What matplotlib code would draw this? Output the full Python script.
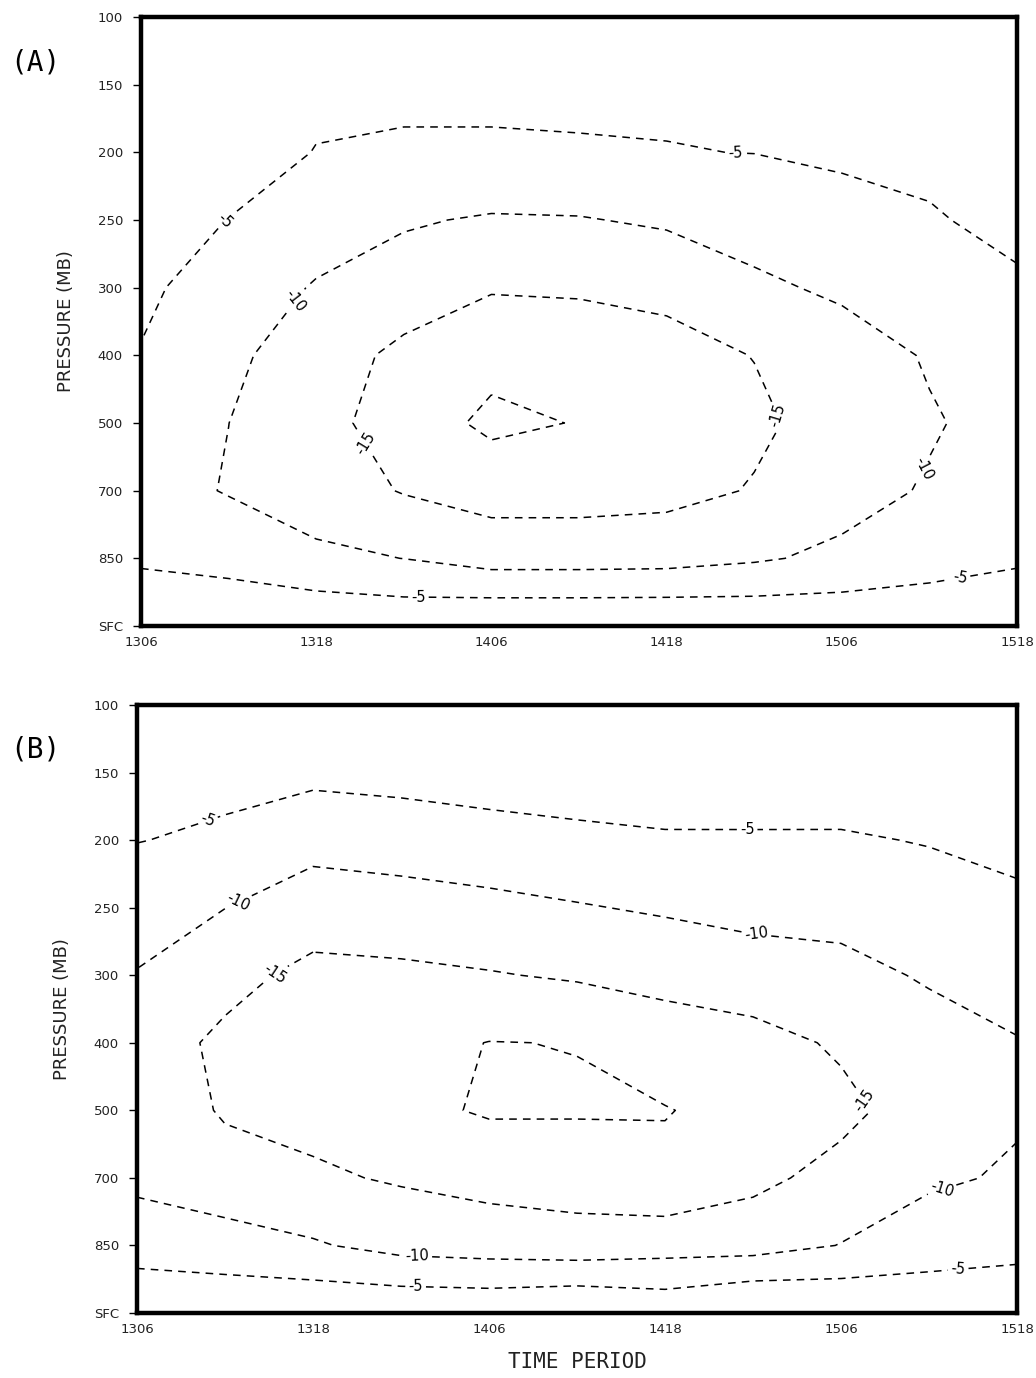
import numpy as np
import matplotlib
matplotlib.use("Agg")
import matplotlib.pyplot as plt

# ---- data -------------------------------------------------------------
time_hours = [0, 6, 12, 18, 24, 30, 36, 42, 48, 54, 60]
time_tick_hours = [0, 12, 24, 36, 48, 60]
time_tick_labels = ["1306", "1318", "1406", "1418", "1506", "1518"]
level_labels = ["100", "150", "200", "250", "300", "400", "500", "700", "850", "SFC"]
contour_levels = [-20, -15, -10, -5]

# panel A values, rows = pressure levels (100 ... SFC), columns = times
values_a = [
    [-1.0, -1.5, -2.0, -2.0, -2.0, -2.0, -2.0, -2.0, -1.8, -1.5, -1.0],
    [-2.0, -2.5, -4.3, -4.5, -4.5, -4.5, -4.5, -4.0, -3.5, -3.0, -2.5],
    [-3.0, -3.5, -5.1, -5.3, -5.3, -5.2, -5.1, -4.95, -4.6, -4.2, -3.3],
    [-3.6, -5.05, -7.5, -9.5, -10.5, -10.3, -9.3, -7.5, -5.9, -5.3, -4.1],
    [-4.2, -7.0, -10.4, -12.3, -14.6, -14.4, -14.0, -11.1, -9.0, -7.5, -5.5],
    [-5.2, -9.0, -12.5, -16.2, -18.6, -18.0, -16.4, -14.9, -12.8, -9.5, -7.0],
    [-7.0, -9.98, -13.2, -17.5, -21.0, -19.8, -17.5, -15.8, -13.2, -10.5, -8.0],
    [-8.0, -10.3, -12.5, -15.3, -17.0, -17.0, -16.5, -14.7, -12.0, -9.5, -7.5],
    [-5.6, -6.7, -9.0, -10.05, -12.0, -12.0, -11.8, -10.6, -8.9, -7.0, -5.6],
    [-1.6, -1.0, -0.7, -1.2, 0.0, 0.0, 0.0, -0.6, -1.1, -1.5, -1.5],
]

# panel B values
values_b = [
    [-1.0, -1.0, -1.5, -1.2, -1.2, -1.0, -0.8, -1.0, -1.0, -1.0, -0.8],
    [-3.0, -4.0, -3.8, -3.5, -2.6, -2.13, -1.8, -2.3, -2.5, -2.4, -1.6],
    [-4.9, -5.6, -8.4, -7.5, -7.0, -6.23, -5.6, -5.5, -5.47, -4.76, -3.77],
    [-7.2, -9.95, -12.5, -12.2, -11.24, -10.33, -9.43, -8.75, -8.43, -7.14, -5.93],
    [-10.3, -13.5, -16.3, -15.9, -15.3, -14.46, -13.5, -11.95, -11.4, -9.52, -8.1],
    [-12.5, -16.0, -17.5, -18.5, -20.1, -19.9, -17.5, -16.9, -14.3, -11.9, -10.23],
    [-13.0, -15.3, -16.5, -18.8, -20.5, -20.4, -20.2, -18.5, -16.3, -12.5, -10.4],
    [-11.0, -13.8, -14.3, -15.5, -16.65, -17.3, -18.9, -16.2, -13.4, -10.6, -9.55],
    [-7.5, -7.36, -9.5, -11.65, -12.3, -12.9, -12.06, -12.0, -9.86, -8.0, -6.3],
    [-0.15, -1.87, -0.7, -0.65, -0.8, 0.3, -1.2, 1.3, 0.06, -0.3, -1.66],
]

# contour label anchor points (hours, level index)
label_pos_a = [(5.9, 3.04), (40.7, 2.01), (10.7, 4.22), (53.3, 6.64),
               (15.5, 6.28), (43.9, 5.86), (19.0, 8.58), (56.1, 8.28)]
label_pos_b = [(4.9, 1.75), (41.6, 1.84), (6.8, 2.87), (42.2, 3.44),
               (9.5, 4.02), (49.3, 5.89), (19.1, 8.16), (55.0, 7.25),
               (19.0, 8.6), (56.0, 8.37)]

# ---- figure -----------------------------------------------------------
plt.rcParams['font.family'] = ['DejaVu Sans']
fig = plt.figure(figsize=(10.36, 13.78), dpi=100)
W, H = 1036.0, 1378.0

def make_axes(left, top, right, bottom):
    return fig.add_axes([left / W, 1 - bottom / H, (right - left) / W, (bottom - top) / H])

ax_a = make_axes(141, 17, 1017, 626)
ax_b = make_axes(137, 705, 1017, 1313)

levels_idx = list(range(len(level_labels)))

for ax, vals, lpos, tag, tag_y in [
    (ax_a, values_a, label_pos_a, "(A)", 63),
    (ax_b, values_b, label_pos_b, "(B)", 750),
]:
    X, Y = np.meshgrid(time_hours, levels_idx)
    Z = np.array(vals)
    cs = ax.contour(X, Y, Z, levels=contour_levels, colors='black',
                    linewidths=1.1, linestyles=[(0, (5, 4))])
    ax.clabel(cs, fmt='%d', fontsize=10.5, inline=True, inline_spacing=3,
              manual=lpos)
    ax.set_xlim(time_hours[0], time_hours[-1])
    ax.set_ylim(levels_idx[-1], levels_idx[0])
    ax.set_yticks(levels_idx)
    ax.set_yticklabels(level_labels, fontsize=9.5, color='#222222')
    ax.set_xticks(time_tick_hours)
    ax.set_xticklabels(time_tick_labels, fontsize=9.5, color='#222222')
    ax.tick_params(axis='y', direction='out', length=6, width=1, pad=7)
    ax.tick_params(axis='x', direction='out', length=0, pad=7)
    for sp in ax.spines.values():
        sp.set_linewidth(3.2)
    ax.set_ylabel("PRESSURE (MB)", fontsize=13, color='#222222', labelpad=16)
    fig.text(10 / W, 1 - tag_y / H, tag, fontsize=20, ha='left', va='center',
             family=['DejaVu Sans Mono'])

ax_b.set_xlabel("TIME PERIOD", fontsize=15, color='#222222', labelpad=12,
                family=['DejaVu Sans Mono'])

fig.savefig("out.png", dpi=100)
